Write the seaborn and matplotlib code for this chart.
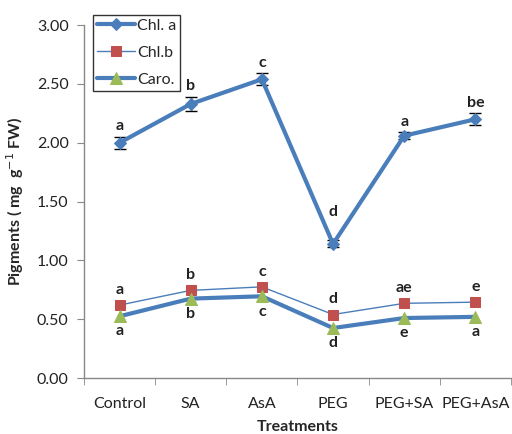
import matplotlib
matplotlib.use("Agg")
import matplotlib.pyplot as plt
import seaborn as sns
import pandas as pd
import numpy as np

treatments = ["Control", "SA", "AsA", "PEG", "PEG+SA", "PEG+AsA"]
chl_a = [2.00, 2.33, 2.54, 1.14, 2.06, 2.20]
chl_a_err = [0.05, 0.06, 0.05, 0.03, 0.03, 0.05]
chl_b = [0.62, 0.745, 0.775, 0.54, 0.635, 0.645]
caro = [0.525, 0.675, 0.695, 0.425, 0.51, 0.52]
letters_a = ["a", "b", "c", "d", "a", "be"]
letters_b = ["a", "b", "c", "d", "ae", "e"]
letters_c = ["a", "b", "c", "d", "e", "a"]

sns.set_style("white")
plt.rcParams['font.family'] = ['Lato', 'DejaVu Sans']

fig = plt.figure(figsize=(5.12, 4.34), dpi=100)
ax = fig.add_axes([0.164, 0.129, 0.834, 0.813])

blue = "#4A7EBB"
df = pd.DataFrame({"T": treatments, "a": chl_a, "b": chl_b, "c": caro})
x = np.arange(len(treatments))

ax.errorbar(x, chl_a, yerr=chl_a_err, fmt="none", ecolor="black", elinewidth=1, capsize=4, capthick=1, zorder=2)
sns.lineplot(data=df, x="T", y="a", ax=ax, color=blue, lw=3, marker="D", markersize=6,
             markerfacecolor=blue, markeredgecolor=blue, label="Chl. a", sort=False, zorder=3)
sns.lineplot(data=df, x="T", y="b", ax=ax, color=blue, lw=1, marker="s", markersize=7.5,
             markerfacecolor="#C0504D", markeredgecolor="#C0504D", label="Chl.b", sort=False, zorder=4)
sns.lineplot(data=df, x="T", y="c", ax=ax, color=blue, lw=3, marker="^", markersize=9,
             markerfacecolor="#9BBB59", markeredgecolor="#9BBB59", label="Caro.", sort=False, zorder=5)

a_off = [0.03, 0.03, 0.03, 0.18, 0.03, 0.03]
for i in range(len(treatments)):
    ax.text(x[i], chl_a[i] + chl_a_err[i] + a_off[i], letters_a[i], ha="center", va="bottom",
            fontsize=11.5, fontweight="bold", color="#222222")
    ax.text(x[i], chl_b[i] + 0.07, letters_b[i], ha="center", va="bottom",
            fontsize=11.5, fontweight="bold", color="#222222")
    ax.text(x[i], caro[i] - 0.07, letters_c[i], ha="center", va="top",
            fontsize=11.5, fontweight="bold", color="#222222")

ax.set_xlim(-0.5, 5.5)
ax.set_ylim(0, 3.0)
ax.set_yticks(np.arange(0, 3.01, 0.5))
ax.set_yticklabels([f"{v:.2f}" for v in np.arange(0, 3.01, 0.5)], fontsize=11.5, color="#222222")
ax.set_xticks(x)
ax.set_xticklabels(treatments, fontsize=11.5, color="#222222")
ax.set_xticks(np.arange(-0.5, 5.6, 1), minor=True)
ax.tick_params(axis="x", which="major", length=0, pad=14)
ax.tick_params(axis="x", which="minor", length=5, color="#888888", direction="out", bottom=True)
ax.tick_params(axis="y", length=5, color="#888888", direction="out", left=True, pad=6)

for s in ["top", "right"]:
    ax.spines[s].set_visible(False)
for s in ["left", "bottom"]:
    ax.spines[s].set_color("#888888")
    ax.spines[s].set_linewidth(1)

ax.set_xlabel("Treatments", fontsize=11.5, fontweight="bold", labelpad=6)
ax.set_ylabel("Pigments ( mg  g$^{-1}$ FW)", fontsize=11.5, fontweight="bold", labelpad=8)

leg = ax.legend(loc="upper left", bbox_to_anchor=(0.02, 1.03), fontsize=11.5, frameon=True,
                fancybox=False, edgecolor="black", handlelength=2.4, borderpad=0.25,
                labelspacing=0.8, handletextpad=0.15, borderaxespad=0)
leg.get_frame().set_linewidth(1)

fig.savefig("out.png", dpi=100)
